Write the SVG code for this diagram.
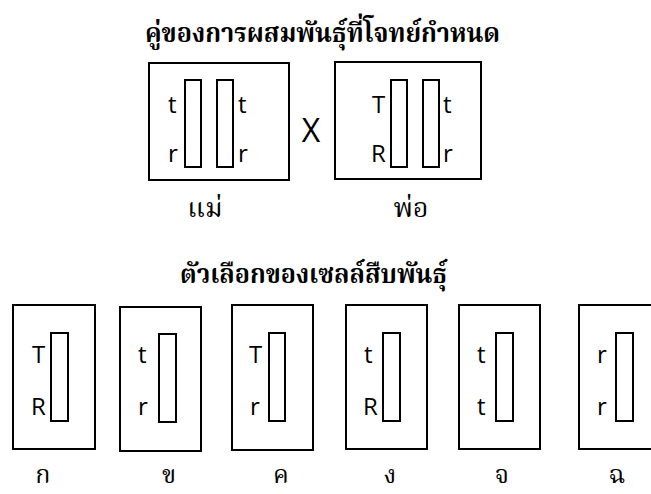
<svg xmlns="http://www.w3.org/2000/svg" width="651" height="494" viewBox="0 0 651 494">
<style>
.box{fill:#fff;stroke:#000;stroke-width:2}
.chr{fill:#fff;stroke:#000;stroke-width:2}
.lat{font-family:"Open Sans","Liberation Sans",sans-serif;font-size:24px;fill:#000}
.thT{font-family:"Noto Serif Thai","Noto Sans Thai","Noto Sans",serif;font-weight:bold;font-size:27px;fill:#000}
.thL{font-family:"Noto Serif Thai","Noto Sans Thai","Noto Sans",serif;font-size:27px;fill:#000}
.opt{font-size:25px}
</style>
<rect width="651" height="494" fill="#fff"/>
<text class="thT" x="145" y="42" textLength="355" lengthAdjust="spacingAndGlyphs">คู่ของการผสมพันธุ์ที่โจทย์กำหนด</text>
<g id="mother">
<rect class="box" x="149" y="63" width="140" height="117"/>
<rect class="chr" x="185" y="80" width="16" height="87"/>
<rect class="chr" x="217" y="80" width="16" height="87"/>
<text class="lat" x="168" y="113">t</text>
<text class="lat" x="168" y="162">r</text>
<text class="lat" x="238" y="113">t</text>
<text class="lat" x="238" y="162">r</text>
<text class="thL" x="205" y="217" text-anchor="middle">แม่</text>
</g>
<text class="lat" x="311" y="142" text-anchor="middle" style="font-size:32px">X</text>
<g id="father">
<rect class="box" x="335" y="62" width="146" height="117"/>
<rect class="chr" x="391" y="80" width="16" height="87"/>
<rect class="chr" x="423" y="80" width="16" height="87"/>
<text class="lat" x="372" y="113">T</text>
<text class="lat" x="371" y="162">R</text>
<text class="lat" x="443" y="113">t</text>
<text class="lat" x="443" y="162">r</text>
<text class="thL" x="411" y="217" text-anchor="middle">พ่อ</text>
</g>
<text class="thT" x="180" y="283" textLength="267" lengthAdjust="spacingAndGlyphs">ตัวเลือกของเซลล์สืบพันธุ์</text>
<g id="opt-k">
<rect class="box" x="13" y="305" width="82" height="144"/>
<rect class="chr" x="51" y="333" width="17" height="88"/>
<text class="lat" x="32" y="363">T</text>
<text class="lat" x="31" y="415">R</text>
<text class="thL opt" x="43" y="483" text-anchor="middle">ก</text>
</g>
<g id="opt-kh">
<rect class="box" x="120" y="307" width="81" height="144"/>
<rect class="chr" x="159" y="334" width="17" height="88"/>
<text class="lat" x="138" y="363">t</text>
<text class="lat" x="138" y="415">r</text>
<text class="thL opt" x="169" y="483" text-anchor="middle">ข</text>
</g>
<g id="opt-kho">
<rect class="box" x="232" y="305" width="81" height="145"/>
<rect class="chr" x="269" y="333" width="16" height="88"/>
<text class="lat" x="249" y="363">T</text>
<text class="lat" x="250" y="415">r</text>
<text class="thL opt" x="281" y="483" text-anchor="middle">ค</text>
</g>
<g id="opt-ng">
<rect class="box" x="346" y="305" width="81" height="144"/>
<rect class="chr" x="383" y="333" width="17" height="88"/>
<text class="lat" x="364" y="363">t</text>
<text class="lat" x="363" y="415">R</text>
<text class="thL opt" x="390" y="483" text-anchor="middle">ง</text>
</g>
<g id="opt-ch">
<rect class="box" x="459" y="305" width="81" height="144"/>
<rect class="chr" x="496" y="333" width="17" height="88"/>
<text class="lat" x="477" y="363">t</text>
<text class="lat" x="477" y="415">t</text>
<text class="thL opt" x="502" y="483" text-anchor="middle">จ</text>
</g>
<g id="opt-chh">
<rect class="box" x="579" y="305" width="82" height="144"/>
<rect class="chr" x="616" y="333" width="17" height="88"/>
<text class="lat" x="597" y="363">r</text>
<text class="lat" x="597" y="415">r</text>
<text class="thL opt" x="617" y="483" text-anchor="middle">ฉ</text>
</g>
</svg>
